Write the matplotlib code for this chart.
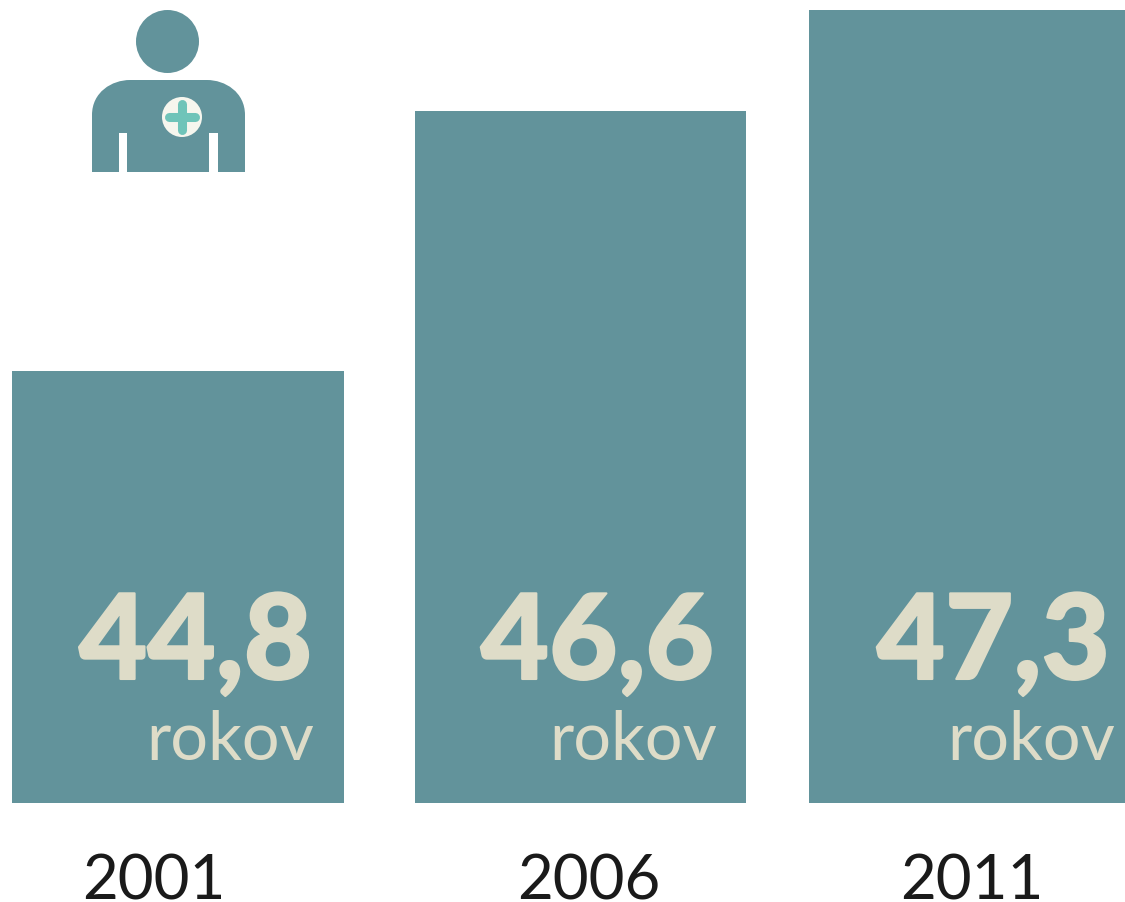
import matplotlib
matplotlib.use("Agg")
import matplotlib.pyplot as plt
import matplotlib.patheffects as pe
from matplotlib.path import Path
from matplotlib.patches import PathPatch, Circle, Rectangle

years = ['2001', '2006', '2011']
ages = [44.8, 46.6, 47.3]
age_labels = ['44,8', '46,6', '47,3']
unit = 'rokov'

teal = '#62939b'
cream = '#dedcc8'
mint = '#6fc4b9'

plt.rcParams['font.family'] = ['Lato', 'DejaVu Sans']

fig = plt.figure(figsize=(11.25, 9.02), dpi=100)

# Bars: y axis is cut off, bars do not start at zero
ax = fig.add_axes([0, 0, 1, 1])
px_per_year = 144.5
base = 44.8 - (803 - 371) / px_per_year
ax.set_xlim(0, 1125)
ax.set_ylim(base - (902 - 803) / px_per_year, base + 803 / px_per_year)
ax.axis('off')

lefts = [12, 415, 809]
widths = [332, 331, 340]
ax.bar(lefts, [a - base for a in ages], width=widths, bottom=base, align='edge', color=teal)

# Overlay in pixel coords for the text and the icon
ov = fig.add_axes([0, 0, 1, 1])
ov.set_xlim(0, 1125)
ov.set_ylim(902, 0)
ov.axis('off')
ov.patch.set_alpha(0)

num_right = [312, 714, 1110]
unit_right = [314, 717, 1115]
year_center = [154, 589, 972]
heavy = [pe.withStroke(linewidth=1.5, foreground=cream)]
for i in range(len(years)):
    ov.text(num_right[i], 679, age_labels[i], ha='right', va='baseline', fontsize=85,
            fontweight='black', color=cream, path_effects=heavy)
    ov.text(unit_right[i], 760, unit, ha='right', va='baseline', fontsize=48, color=cream)
    ov.text(year_center[i], 899, years[i], ha='center', va='baseline', fontsize=44.5, color='#1a1a1a')

# Icon
ov.add_patch(Circle((167.5, 41.5), 31.5, color=teal, lw=0))
verts = [(92, 172), (92, 115), (92, 92), (112, 80), (130, 80), (207, 80), (225, 80), (245, 92),
         (245, 115), (245, 172), (92, 172)]
codes = [Path.MOVETO, Path.LINETO, Path.CURVE4, Path.CURVE4, Path.CURVE4, Path.LINETO, Path.CURVE4,
         Path.CURVE4, Path.CURVE4, Path.LINETO, Path.CLOSEPOLY]
ov.add_patch(PathPatch(Path(verts, codes), color=teal, lw=0))
ov.add_patch(Rectangle((119, 133), 8, 39, color='white', lw=0))
ov.add_patch(Rectangle((209, 133), 9, 39, color='white', lw=0))
ov.add_patch(Circle((182, 117), 20, color='#f6f6ee', lw=0))
ov.plot([182, 182], [104, 130], color=mint, lw=6.5, solid_capstyle='round')
ov.plot([169, 195], [117, 117], color=mint, lw=6.5, solid_capstyle='round')

plt.savefig('out.png', dpi=100)
